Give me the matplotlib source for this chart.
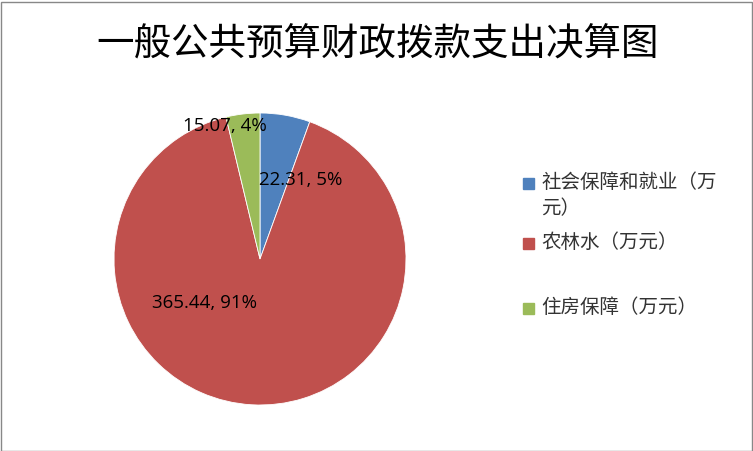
import matplotlib.pyplot as plt
from matplotlib.patches import Rectangle

plt.rcParams['font.family'] = ['Noto Sans CJK SC', 'DejaVu Sans']

# 数据
categories = ["社会保障和就业（万\n元）", "农林水（万元）", "住房保障（万元）"]
values = [22.31, 365.44, 15.07]
value_labels = ["22.31, 5%", "365.44, 91%", "15.07, 4%"]
colors = ["#4F81BD", "#C0504D", "#9BBB59"]

W, H = 753, 451
fig = plt.figure(figsize=(W / 100, H / 100), dpi=100)

# 外框
fig.patches.append(Rectangle((0.5 / W, 0.5 / H), 1 - 2 / W, 1 - 2 / H, transform=fig.transFigure,
                             fill=False, edgecolor="#888888", linewidth=1))

fig.text(378 / W, 1 - 45 / H, "一般公共预算财政拨款支出决算图", fontsize=27,
         ha="center", va="center", color="black", fontweight="light")

# 饼图区域（中心约 260,259 像素，半径 145）
cx, cy, r = 260, 259, 146
ax = fig.add_axes([(cx - r) / W, (H - cy - r) / H, 2 * r / W, 2 * r / H])
wedges, _ = ax.pie(values, colors=colors, startangle=90, counterclock=False,
                   wedgeprops=dict(edgecolor="white", linewidth=0.6))
ax.set_xlim(-1, 1)
ax.set_ylim(-1, 1)
ax.set_aspect("equal")

label_pos = [(0.28, 0.54), (-0.38, -0.30), (-0.24, 0.91)]
for (x, y), t in zip(label_pos, value_labels):
    ax.text(x, y, t, ha="center", va="center", fontsize=13.5,
            family=["Open Sans", "DejaVu Sans"], color="black")

# 图例
legend_y = [183, 243, 308]
for yy, c, lab in zip(legend_y, colors, categories):
    fig.patches.append(Rectangle((523 / W, 1 - (yy + 6) / H), 11 / W, 11 / H,
                                 transform=fig.transFigure, color=c))
    fig.text(541 / W, 1 - (yy - 11) / H, lab, fontsize=14, ha="left", va="top",
             color="#333333", linespacing=1.3, fontweight="light")

fig.savefig("out.png", dpi=100)
